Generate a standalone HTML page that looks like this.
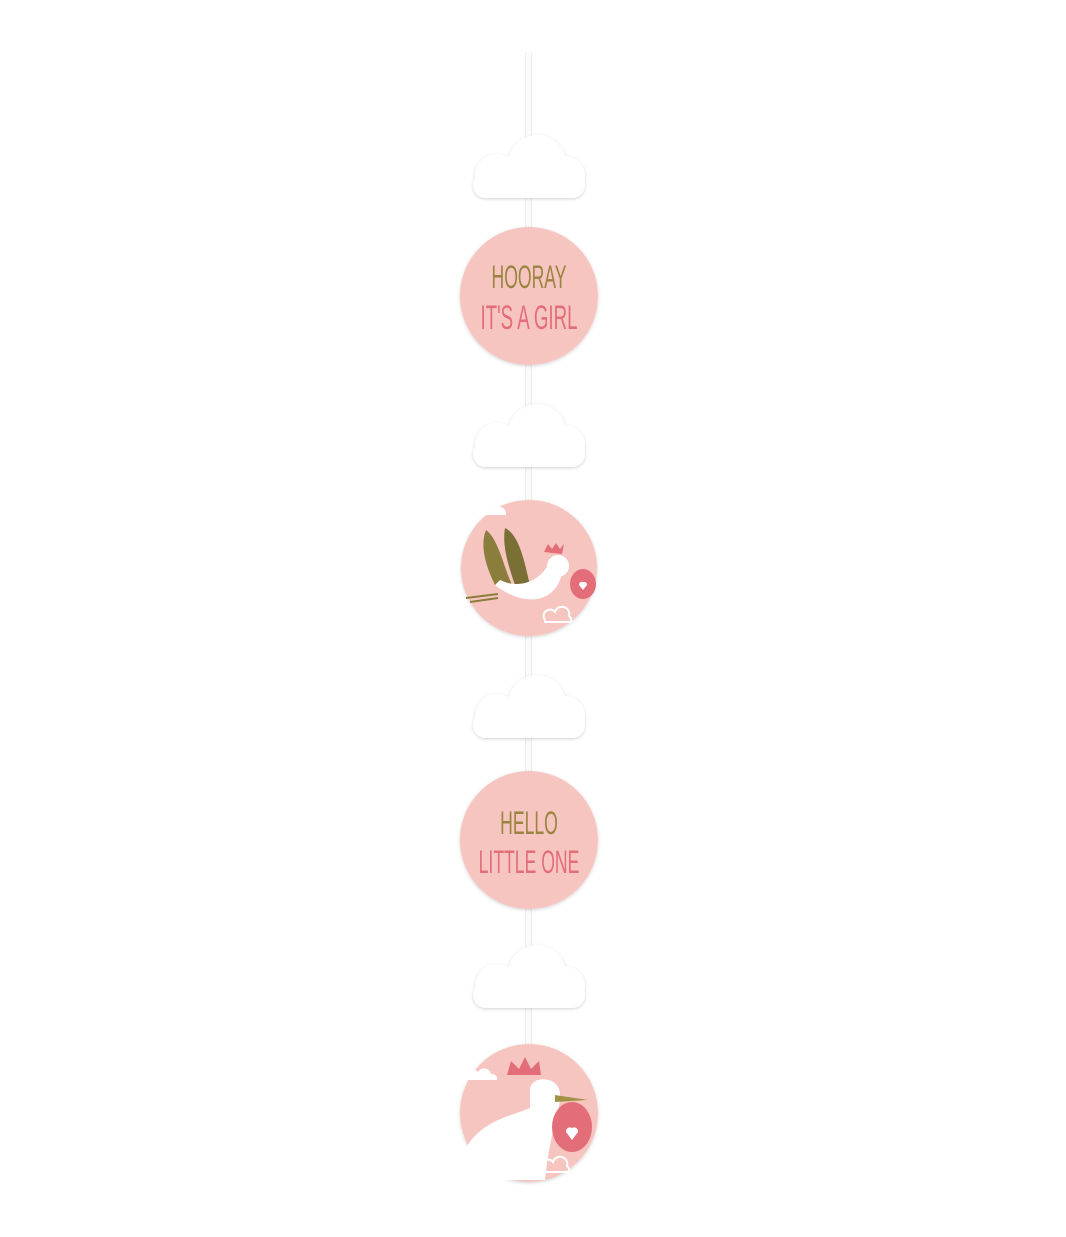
<!DOCTYPE html>
<html><head><meta charset="utf-8"><style>
body{margin:0;background:#fff;}
svg{display:block}
</style></head><body>
<svg width="1066" height="1237" viewBox="0 0 1066 1237" xmlns="http://www.w3.org/2000/svg">
<defs>
<filter id="sh" x="-20%" y="-20%" width="140%" height="140%"><feDropShadow dx="0" dy="1" stdDeviation="1.5" flood-color="#000" flood-opacity="0.18"/></filter>
<g id="cloud" filter="url(#sh)" fill="#fff">
<circle cx="-32" cy="8" r="22"/>
<circle cx="8" cy="-4" r="29"/>
<circle cx="36" cy="8" r="20"/>
<rect x="-56" y="4" width="112" height="26" rx="13"/>
</g>
</defs>
<rect x="526" y="52" width="5" height="995" fill="#fbfbfb"/>
<rect x="525" y="52" width="1" height="995" fill="#ececec"/>
<rect x="531" y="52" width="1" height="995" fill="#ececec"/>
<use href="#cloud" x="529" y="168"/>
<use href="#cloud" x="529" y="437"/>
<use href="#cloud" x="529" y="708"/>
<use href="#cloud" x="529" y="978"/>
<g font-family="Liberation Sans Narrow, Liberation Sans, sans-serif" text-anchor="middle">
<circle cx="529" cy="296" r="69" fill="#f6c5c0" filter="url(#sh)"/>
<text x="529" y="288" font-size="32" fill="#9a8440" transform="translate(529 288) scale(0.55 1) translate(-529 -288)">HOORAY</text>
<text x="529" y="329" font-size="34" fill="#e36d78" transform="translate(529 329) scale(0.55 1) translate(-529 -329)">IT'S A GIRL</text>
<circle cx="529" cy="568" r="68" fill="#f6c5c0" filter="url(#sh)"/>
<path d="M480,515 a8,8 0 0 1 14,-6 a7,7 0 0 1 12,6 z" fill="#fff"/>
<path d="M486,530 C500,540 505,575 515,590 L495,585 C485,565 480,545 486,530Z" fill="#8b7d3c"/>
<path d="M505,528 C520,535 525,565 530,585 L515,585 C508,565 502,545 505,528Z" fill="#7a6f35"/>
<path d="M495,585 C520,605 550,605 560,580 C565,570 555,558 548,565 C540,580 520,590 500,580Z" fill="#fff"/>
<circle cx="558" cy="566" r="11" fill="#fff"/>
<path d="M544,552 l4,-8 4,5 4,-6 4,6 4,-5 -2,10z" fill="#e36d78"/>
<path d="M466,598 L498,594 M470,602 L498,598" stroke="#8b7d3c" stroke-width="2"/>
<ellipse cx="583" cy="584" rx="13" ry="15" fill="#e36d78"/>
<path d="M579,585 a3,3 0 0 1 4,-3 a3,3 0 0 1 4,3 l-4,5z" fill="#fff"/>
<path d="M545,620 a6,6 0 0 1 10,-8 a6,6 0 0 1 14,4 a5,5 0 0 1 2,6 h-26z" fill="none" stroke="#fff" stroke-width="2"/>
<circle cx="529" cy="840" r="69" fill="#f6c5c0" filter="url(#sh)"/>
<text x="529" y="834" font-size="32" fill="#9a8440" transform="translate(529 834) scale(0.55 1) translate(-529 -834)">HELLO</text>
<text x="529" y="873" font-size="32" fill="#e36d78" transform="translate(529 873) scale(0.55 1) translate(-529 -873)">LITTLE ONE</text>
<circle cx="529" cy="1113" r="69" fill="#f6c5c0" filter="url(#sh)"/>
<path d="M466,1078 a7,7 0 0 1 12,-6 a7,7 0 0 1 13,2 a5,5 0 0 1 6,6 h-31z" fill="#fff"/>
<path d="M465,1150 C480,1120 515,1115 530,1108 L530,1090 C530,1075 560,1075 560,1095 C560,1115 550,1130 545,1180 L485,1180 C475,1175 468,1165 465,1150Z" fill="#fff"/>
<path d="M507,1075 l4,-14 8,8 6,-12 6,12 8,-8 2,14z" fill="#e36d78"/>
<path d="M555,1095 L588,1100 L555,1102Z" fill="#a39245"/>
<ellipse cx="572" cy="1127" rx="20" ry="25" fill="#e36d78"/>
<path d="M566,1132 a4,4 0 0 1 6,-4 a4,4 0 0 1 6,4 l-6,8z" fill="#fff"/>
<path d="M543,1170 a6,6 0 0 1 10,-8 a6,6 0 0 1 14,4 a5,5 0 0 1 2,6 h-26z" fill="none" stroke="#fff" stroke-width="2"/>
</g>
</svg>
</body></html>
